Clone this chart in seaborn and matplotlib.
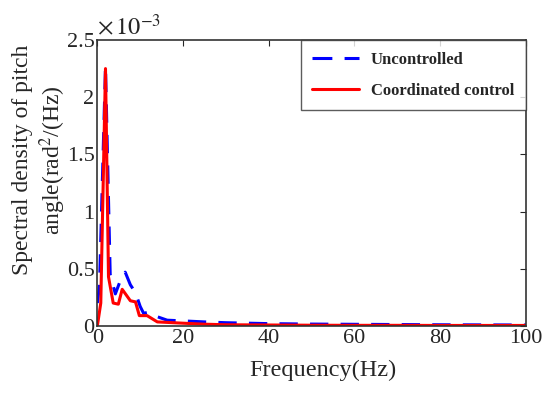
import numpy as np
import pandas as pd
import matplotlib
matplotlib.use("Agg")
import matplotlib.pyplot as plt
import seaborn as sns

# frequencias (Hz) y densidad espectral (x1e-3 rad^2/Hz)
freq_unc = [0, 0.5, 1.9, 3.0, 4.2, 5.4, 6.5, 7.7, 8.9, 10.0, 10.8, 11.9, 14.0, 16.3,
            19.3, 25, 30, 40, 50, 60, 70, 80, 90, 100]
psd_unc = [0.2, 0.35, 2.27, 0.45, 0.28, 0.40, 0.47, 0.36, 0.29, 0.17, 0.11, 0.12, 0.08,
           0.05, 0.045, 0.035, 0.028, 0.02, 0.016, 0.014, 0.012, 0.01, 0.009, 0.008]

freq_coo = [0, 0.8, 1.9, 2.6, 3.7, 4.9, 5.8, 7.7, 8.9, 9.8, 11.6, 14.0, 19.3, 25, 30,
            40, 50, 60, 70, 80, 90, 100]
psd_coo = [0.0, 0.2, 2.25, 0.43, 0.20, 0.19, 0.32, 0.22, 0.21, 0.09, 0.09, 0.035, 0.025,
           0.015, 0.01, 0.008, 0.006, 0.005, 0.005, 0.004, 0.004, 0.004]

sns.set_style("white")
plt.rcParams['font.family'] = ['Liberation Serif', 'DejaVu Serif']
plt.rcParams['mathtext.fontset'] = 'stix'

unc = pd.DataFrame({'f': freq_unc, 'p': np.array(psd_unc) * 1e-3})
coo = pd.DataFrame({'f': freq_coo, 'p': np.array(psd_coo) * 1e-3})

fig, ax = plt.subplots(figsize=(5.5, 3.96), dpi=100)
sns.lineplot(data=unc, x='f', y='p', ax=ax, color='blue', lw=2.2, label='Uncontrolled')
ax.lines[-1].set_dashes([6, 4])
sns.lineplot(data=coo, x='f', y='p', ax=ax, color='red', lw=2.2, label='Coordinated control')

ax.set_xlim(0, 100)
ax.set_ylim(0, 2.5e-3)
ax.set_xticks([0, 20, 40, 60, 80, 100])
ax.set_yticks([0, 0.5e-3, 1e-3, 1.5e-3, 2e-3, 2.5e-3])
ax.set_yticklabels(['0', '0.5', '1', '1.5', '2', '2.5'])
ax.tick_params(direction='in', top=True, right=True, labelsize=16, length=4, pad=2)
ax.text(0, 1.0, r'$\times\,10^{-3}$', transform=ax.transAxes, fontsize=17.5, va='bottom')
for s in ax.spines.values():
    s.set_color('#333333')
    s.set_linewidth(1.2)

ax.set_xlabel('Frequency(Hz)', fontsize=17.5, labelpad=8)
ax.xaxis.set_label_coords(0.526, -0.12)
ax.set_ylabel('Spectral density of pitch\nangle(rad$^2$/(Hz)', fontsize=17,
              linespacing=1.2)
ax.yaxis.set_label_coords(-0.068, 0.58)

leg = ax.legend(loc='upper right', prop={'weight': 'bold', 'size': 12},
                frameon=True, fancybox=False, edgecolor='#333333', borderpad=0.7,
                labelspacing=0.9, handlelength=2.8, handletextpad=0.7, borderaxespad=0)
leg.get_frame().set_linewidth(1.0)
leg.get_lines()[0].set_dashes([6.5, 4])

plt.subplots_adjust(left=0.177, right=0.956, top=0.899, bottom=0.177)
plt.savefig('out.png', dpi=100)
